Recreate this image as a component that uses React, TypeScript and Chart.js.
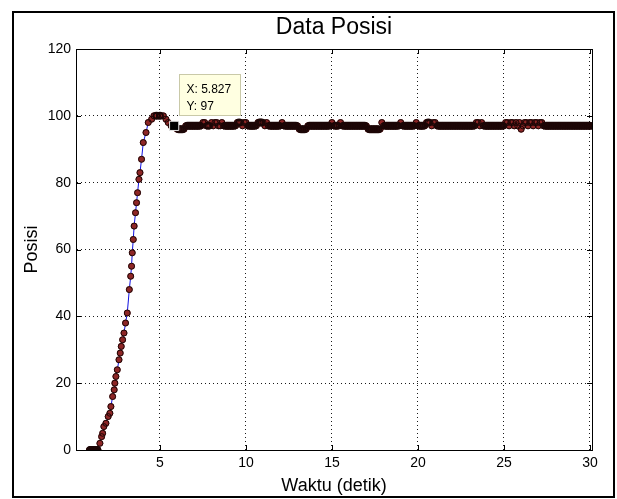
import React, { useEffect, useRef } from "react";
import { Chart, registerables } from "chart.js";

Chart.register(...registerables);

// ---- data ----
const riseTime = [
  0.9, 0.95, 1.0, 1.05, 1.1, 1.15, 1.2, 1.25, 1.3, 1.35, 1.4,
  1.51, 1.61, 1.67, 1.74, 1.86, 1.99, 2.09, 2.15, 2.25, 2.34, 2.38, 2.44, 2.52,
  2.62, 2.69, 2.75, 2.83, 2.91, 3.0, 3.1, 3.22, 3.3, 3.35, 3.39, 3.45, 3.5,
  3.58, 3.64, 3.7, 3.78, 3.84, 3.93, 4.03, 4.19, 4.32, 4.52, 4.65, 4.8, 5.0,
  5.2, 5.35, 5.48, 5.65, 5.827,
];
const risePos = [
  0, 0, 0, 0, 0, 0, 0, 0, 0, 0, 0,
  2, 4, 5, 7, 8, 10, 11, 13, 16, 18, 20, 22, 24,
  27, 29, 31, 33, 35, 38, 41, 48, 52, 55, 59, 63, 67,
  71, 74, 77, 81, 83, 87, 92, 95, 98, 99, 100, 100, 100,
  100, 99, 98, 97, 97,
];
// plateau samples (one char per sample): value = 90 + digit
const plateauStart = 5.9;
const plateauStep = 0.1;
const plateauBase = 90;
const plateauCodes =
  "7666667777" + "7777778877" + "7878877877" + "7777778887" + "8877777788" +
  "8878777777" + "7787777777" + "7766666777" + "7777777777" + "7877778777" +
  "7777777777" + "7766666666" + "8777777777" + "7877777777" + "8777778887" +
  "8877777777" + "7777777777" + "7777788787" + "7777777777" + "7788788787" +
  "8678878878" + "8788777777" + "7777777777" + "7777777777" + "777";

const xTickValues = [5, 10, 15, 20, 25, 30];
const yTickValues = [0, 20, 40, 60, 80, 100, 120];
const xMin = 0.12;
const xMax = 30.12;
const yMin = 0;
const yMax = 120;

const tipX = 5.827;
const tipY = 97;

const titleText = "Data Posisi";
const xLabel = "Waktu (detik)";
const yLabel = "Posisi";

const FONT = "'Liberation Sans', Arial, Helvetica, sans-serif";

const plateauTime = Array.from(plateauCodes, (_c, i) => +(plateauStart + i * plateauStep).toFixed(3));
const plateauPos = Array.from(plateauCodes, (c) => plateauBase + Number(c));
const timeAll = [...riseTime, ...plateauTime];
const posAll = [...risePos, ...plateauPos];

const framePlugin = {
  id: "matlabFrame",
  afterDraw(chart: any) {
    const { ctx, chartArea } = chart;
    const xs = chart.scales.x;
    const ys = chart.scales.y;
    const { left, right, top, bottom } = chartArea;
    ctx.save();
    // axes box
    ctx.strokeStyle = "#000";
    ctx.lineWidth = 1;
    ctx.strokeRect(Math.round(left) + 0.5, Math.round(top) + 0.5, Math.round(right - left), Math.round(bottom - top));
    // inward ticks
    const tl = 5;
    ctx.beginPath();
    xTickValues.forEach((v) => {
      const px = Math.round(xs.getPixelForValue(v)) + 0.5;
      ctx.moveTo(px, bottom);
      ctx.lineTo(px, bottom - tl);
      ctx.moveTo(px, top);
      ctx.lineTo(px, top + tl);
    });
    yTickValues.forEach((v) => {
      const py = Math.round(ys.getPixelForValue(v)) + 0.5;
      ctx.moveTo(left, py);
      ctx.lineTo(left + tl, py);
      ctx.moveTo(right, py);
      ctx.lineTo(right - tl, py);
    });
    ctx.stroke();
    // figure border
    ctx.lineWidth = 2;
    ctx.strokeRect(13, 12, 601, 485);

    // data tip
    const px = xs.getPixelForValue(tipX);
    const py = ys.getPixelForValue(tipY);
    const bx = Math.round(px + 5) + 0.5;
    const by = Math.round(py - 52) + 0.5;
    ctx.fillStyle = "#ffffe1";
    ctx.fillRect(bx, by, 61, 41);
    ctx.strokeStyle = "#c9c9a8";
    ctx.lineWidth = 1;
    ctx.strokeRect(bx, by, 61, 41);
    ctx.fillStyle = "#000";
    ctx.font = `12px ${FONT}`;
    ctx.textBaseline = "middle";
    ctx.textAlign = "left";
    ctx.fillText(`X: ${tipX}`, bx + 7, by + 15);
    ctx.fillText(`Y: ${tipY}`, bx + 7, by + 32);
    ctx.restore();
  },
};

const edgeWidth = (c: any) => {
  const i = c.dataIndex;
  const v = posAll[i];
  return posAll[i - 1] === v && posAll[i + 1] === v ? 2 : 1;
};

export default function App() {
  const ref = useRef<HTMLCanvasElement | null>(null);
  useEffect(() => {
    if (!ref.current) return;
    const pts = timeAll.map((t, i) => ({ x: t, y: posAll[i] }));
    const chart = new Chart(ref.current, {
      type: "scatter",
      data: {
        datasets: [
          {
            label: "tip",
            data: [{ x: tipX, y: tipY }],
            pointStyle: "rect",
            pointRadius: 6.5,
            pointBackgroundColor: "#000",
            pointBorderColor: "#e6e6e6",
            pointBorderWidth: 1,
            showLine: false,
            order: 0,
          } as any,
          {
            label: "edges",
            data: pts,
            pointRadius: 3,
            pointBackgroundColor: "rgba(0,0,0,0)",
            pointBorderColor: "#1c0606",
            pointBorderWidth: edgeWidth,
            showLine: false,
            order: 1,
          },
          {
            label: "faces",
            data: pts,
            pointRadius: 3.3,
            pointBackgroundColor: "#8e2626",
            pointBorderWidth: 0,
            showLine: false,
            order: 2,
          },
          {
            label: "line",
            data: pts,
            pointRadius: 0,
            borderColor: "#1010e0",
            borderWidth: 1,
            showLine: true,
            order: 3,
          },
        ],
      },
      options: {
        animation: false,
        responsive: false,
        devicePixelRatio: 1,
        layout: { padding: { left: 0, right: 25, top: 0, bottom: 0 } },
        plugins: {
          legend: { display: false },
          tooltip: { enabled: false },
          title: {
            display: true,
            fullSize: false,
            text: titleText,
            color: "#000",
            font: { family: FONT, size: 23, weight: "normal" },
            padding: { top: 13.4, bottom: 8 },
          },
        },
        scales: {
          x: {
            type: "linear",
            min: xMin,
            max: xMax,
            afterBuildTicks: (s: any) => {
              s.ticks = xTickValues.map((v) => ({ value: v }));
            },
            afterFit: (s: any) => {
              s.height = 49;
              s.paddingLeft = 0;
              s.paddingRight = 0;
            },
            ticks: {
              color: "#000",
              font: { family: FONT, size: 14 },
              padding: 5,
              maxRotation: 0,
              autoSkip: false,
            },
            grid: { color: "#1a1a1a", lineWidth: 1, drawTicks: false },
            border: { display: true, color: "#000", width: 1, dash: [1, 3] },
            title: {
              display: true,
              text: xLabel,
              color: "#000",
              font: { family: FONT, size: 18 },
              padding: { top: 0, bottom: 2 },
            },
          },
          y: {
            type: "linear",
            min: yMin,
            max: yMax,
            afterBuildTicks: (s: any) => {
              s.ticks = yTickValues.map((v) => ({ value: v }));
            },
            afterFit: (s: any) => {
              s.width = 76;
              s.paddingTop = 0;
              s.paddingBottom = 0;
            },
            ticks: {
              color: "#000",
              font: { family: FONT, size: 14 },
              padding: 5,
              autoSkip: false,
            },
            grid: { color: "#1a1a1a", lineWidth: 1, drawTicks: false },
            border: { display: true, color: "#000", width: 1, dash: [1, 3] },
            title: {
              display: true,
              text: yLabel,
              color: "#000",
              font: { family: FONT, size: 18 },
              padding: { top: 21, bottom: 0 },
            },
          },
        },
      } as any,
      plugins: [framePlugin],
    });
    return () => chart.destroy();
  }, []);
  return (
    <div style={{ position: "absolute", left: 0, top: 0, width: 617, height: 499, background: "#fff" }}>
      <canvas ref={ref} width={617} height={499} style={{ display: "block" }} />
    </div>
  );
}
